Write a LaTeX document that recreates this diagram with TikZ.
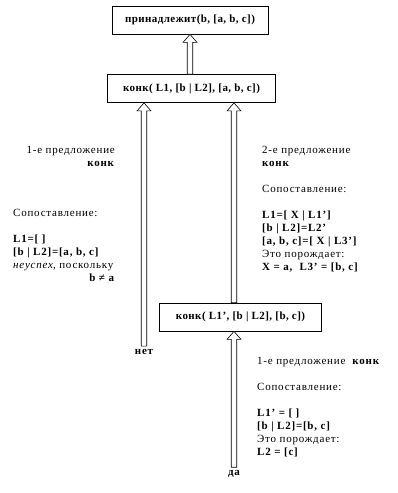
\documentclass[tikz,border=0pt]{standalone}
\usepackage{fontspec}
\setmainfont[LetterSpace=7]{Liberation Serif}
\usetikzlibrary{positioning, arrows.meta, calc}

\begin{document}
\begin{tikzpicture}[x=1pt, y=-1pt, node distance=4pt,
    every node/.style={font=\fontsize{11}{13}\selectfont},
    goal/.style={draw, rectangle, line width=0.8pt, minimum height=28pt, inner xsep=4pt, font=\fontsize{11}{13}\selectfont\bfseries\addfontfeature{LetterSpace=4}},
    answer/.style={font=\fontsize{11}{13}\selectfont\bfseries, inner sep=3pt},
    hollow/.style={draw, line width=0.6pt, fill=white, line join=miter, to path={
        ($(\tikztostart)+(-2.75,0)$) -- ($(\tikztotarget)+(-2.75,8)$) -- ($(\tikztotarget)+(-7,8)$) -- (\tikztotarget)
        -- ($(\tikztotarget)+(7,8)$) -- ($(\tikztotarget)+(2.75,8)$) -- ($(\tikztostart)+(2.75,0)$) -- cycle}},
    note/.style={inner sep=0pt, align=left, anchor=north west},
    noteright/.style={inner sep=0pt, align=right, anchor=north east}]
    \useasboundingbox (0,0) rectangle (397,493);

    % goals
    \node [goal, minimum width=156pt] (member) at (190,20) {принадлежит(b,\ [a, b, c])};
    \node [goal, minimum width=168pt] (conc) at (191.5,88.5) {конк( L1, [b | L2], [a, b, c])};
    \node [goal, minimum width=162pt] (conc2) at (240.5,317) {конк( L1’, [b | L2], [b, c])};

    % answers
    \node [answer] (no) at (144,352) {нет};
    \node [answer] (yes) at (234,474) {да};

    % first clause, fails
    \node [noteright] (cl1) at (115,144) {\strut 1-е предложение\\ \strut\textbf{конк}};
    \node [note] (match1) at (13,207) {\strut Сопоставление:\\[13pt]
        \strut\textbf{L1=[ ]}\\
        \strut\textbf{[b | L2]=[a, b, c]}\\
        \strut\textit{неуспех}, поскольку};
    \node [noteright] (neq) at (115,272) {\strut\textbf{b ≠ a}};

    % second clause
    \node [note] (cl2) at (262,144) {\strut 2-е предложение\\ \strut\textbf{конк}\\[13pt]
        \strut Сопоставление:\\[13pt]
        \strut\textbf{L1=[ X | L1’]}\\
        \strut\textbf{[b | L2]=L2’}\\
        \strut\textbf{[a, b, c]=[ X | L3’]}\\
        \strut Это порождает:\\
        \strut\textbf{X = a,\ \ L3’ = [b, c]}};

    % first clause, succeeds
    \node [note] (cl3) at (257,355) {\strut 1-е предложение\ \ \textbf{конк}\\[13pt]
        \strut Сопоставление:\\[13pt]
        \strut\textbf{L1’ = [ ]}\\
        \strut\textbf{[b | L2]=[b, c]}\\
        \strut Это порождает:\\
        \strut\textbf{L2 = [c]}};

    \draw [hollow] (conc.north -| member.south) to (member.south);
    \draw [hollow] (no.north) to (no |- conc.south);
    \draw [hollow] (yes |- conc2.north) to (yes |- conc.south);
    \draw [hollow] (yes.north) to (yes |- conc2.south);
\end{tikzpicture}
\end{document}
